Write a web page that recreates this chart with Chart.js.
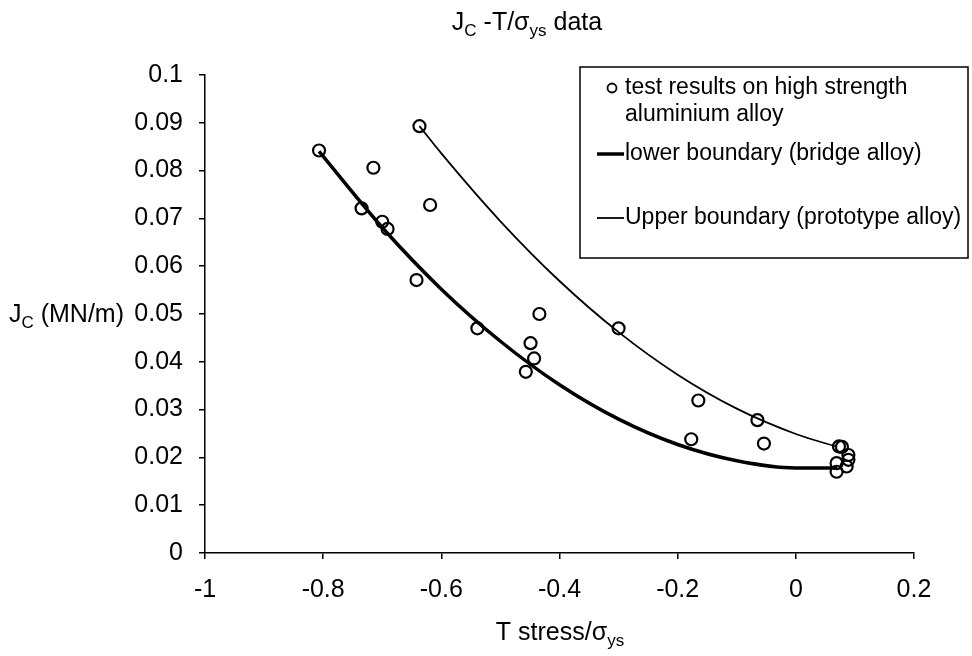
<!DOCTYPE html>
<html>
<head>
<meta charset="utf-8">
<script src="https://cdn.jsdelivr.net/npm/chart.js@4.4.1/dist/chart.umd.min.js"></script>
<style>
  body { margin: 0; background: #fff; }
  #wrap { width: 972px; height: 656px; }
</style>
</head>
<body>
<div id="wrap"><canvas id="chart" width="972" height="656"></canvas></div>
<script>
// test results (T stress / sigma_ys, Jc in MN/m)
const testX = [-0.807, -0.637, -0.715, -0.735, -0.700, -0.691, -0.619, -0.642, -0.539,
               -0.434, -0.449, -0.443, -0.457, -0.300, -0.165, -0.177, -0.065, -0.054,
               0.073, 0.078, 0.089, 0.089, 0.086, 0.069, 0.069];
const testY = [0.0842, 0.0893, 0.0806, 0.0721, 0.0693, 0.0678, 0.0728, 0.0571, 0.0470,
               0.0500, 0.0439, 0.0407, 0.0379, 0.0470, 0.0319, 0.0238, 0.0278, 0.0229,
               0.0223, 0.0222, 0.0205, 0.0195, 0.0181, 0.0188, 0.0170];

// lower boundary (bridge alloy)
const lowerX = [-0.807, -0.7, -0.6, -0.5, -0.4, -0.3, -0.2, -0.1, 0.0, 0.07];
const lowerY = [0.0840, 0.0681, 0.0552, 0.0443, 0.0352, 0.0280, 0.0227, 0.0193, 0.0178, 0.0178];

// upper boundary (prototype alloy)
const upperX = [-0.637, -0.6, -0.5, -0.4, -0.3, -0.2, -0.1, 0.0, 0.07];
const upperY = [0.0893, 0.0836, 0.0694, 0.0569, 0.0462, 0.0373, 0.0302, 0.0249, 0.0222];

const legendLabels = ['test results on high strength', 'aluminium alloy',
                      'lower boundary (bridge alloy)', 'Upper boundary (prototype alloy)'];

const FONT = '"Liberation Sans", Arial, sans-serif';

function pts(xs, ys) {
	return xs.map((x, i) => ({x: x, y: ys[i]}));
}

// draw text made of normal and subscript parts
function richText(ctx, parts, x, y, size, align) {
	let total = 0;
	for (const p of parts) {
		ctx.font = (p.sub ? size * 0.68 : size) + 'px ' + FONT;
		total += ctx.measureText(p.t).width;
	}
	let cx = align === 'center' ? x - total / 2 : x;
	ctx.textBaseline = 'alphabetic';
	ctx.textAlign = 'left';
	for (const p of parts) {
		ctx.font = (p.sub ? size * 0.68 : size) + 'px ' + FONT;
		ctx.fillText(p.t, cx, p.sub ? y + size * 0.22 : y);
		cx += ctx.measureText(p.t).width;
	}
}

const decorations = {
	id: 'decorations',
	afterDraw(chart) {
		const ctx = chart.ctx;
		ctx.save();
		ctx.fillStyle = '#000';
		// title
		richText(ctx, [{t: 'J'}, {t: 'C', sub: true}, {t: ' -T/\u03c3'}, {t: 'ys', sub: true}, {t: ' data'}],
			527, 30, 25, 'center');
		// axis titles
		richText(ctx, [{t: 'J'}, {t: 'C', sub: true}, {t: ' (MN/m)'}], 9, 322, 25, 'left');
		richText(ctx, [{t: 'T stress/\u03c3'}, {t: 'ys', sub: true}], 560, 640, 25, 'center');

		// legend box
		ctx.strokeStyle = '#000';
		ctx.lineWidth = 1.5;
		ctx.strokeRect(580, 67, 388, 191);

		ctx.lineWidth = 1.8;
		ctx.beginPath();
		ctx.arc(612, 88, 4.5, 0, Math.PI * 2);
		ctx.stroke();

		ctx.lineWidth = 3.5;
		ctx.beginPath();
		ctx.moveTo(597, 154);
		ctx.lineTo(624, 154);
		ctx.stroke();

		ctx.lineWidth = 1.8;
		ctx.beginPath();
		ctx.moveTo(597, 218);
		ctx.lineTo(624, 218);
		ctx.stroke();

		ctx.font = '23px ' + FONT;
		ctx.textAlign = 'left';
		ctx.textBaseline = 'middle';
		ctx.fillText(legendLabels[0], 625, 88);
		ctx.fillText(legendLabels[1], 625, 115);
		ctx.fillText(legendLabels[2], 625, 154);
		ctx.fillText(legendLabels[3], 625, 218);
		ctx.restore();
	}
};

const config = {
	type: 'scatter',
	data: {
		datasets: [
			{
				label: legendLabels[0] + ' ' + legendLabels[1],
				data: pts(testX, testY),
				showLine: false,
				pointStyle: 'circle',
				pointRadius: 6,
				pointBorderWidth: 2.2,
				pointBorderColor: '#000',
				pointBackgroundColor: 'rgba(255,255,255,0)'
			},
			{
				label: legendLabels[2],
				data: pts(lowerX, lowerY),
				showLine: true,
				borderColor: '#000',
				borderWidth: 3.5,
				pointRadius: 0,
				cubicInterpolationMode: 'monotone'
			},
			{
				label: legendLabels[3],
				data: pts(upperX, upperY),
				showLine: true,
				borderColor: '#000',
				borderWidth: 1.8,
				pointRadius: 0,
				cubicInterpolationMode: 'monotone'
			}
		]
	},
	options: {
		responsive: false,
		animation: false,
		layout: { padding: { top: 75, right: 58, left: 0, bottom: 0 } },
		plugins: {
			legend: { display: false },
			title: { display: false },
			tooltip: { enabled: false }
		},
		scales: {
			x: {
				type: 'linear',
				min: -1,
				max: 0.2,
				afterFit(scale) { scale.height = 103; },
				border: { color: '#000', width: 1.5 },
				grid: { drawOnChartArea: false, drawTicks: true, tickLength: 6, color: '#000', lineWidth: 1.5 },
				ticks: {
					stepSize: 0.2,
					padding: 16,
					color: '#000',
					font: { family: FONT, size: 25 },
					maxRotation: 0,
					callback: v => String(Number(v.toFixed(1)))
				}
			},
			y: {
				type: 'linear',
				min: 0,
				max: 0.1,
				afterFit(scale) { scale.width = 205; },
				border: { color: '#000', width: 1.5 },
				grid: { drawOnChartArea: false, drawTicks: true, tickLength: 6, color: '#000', lineWidth: 1.5 },
				ticks: {
					stepSize: 0.01,
					padding: 16,
					color: '#000',
					font: { family: FONT, size: 25 },
					callback: v => String(Number(v.toFixed(2)))
				}
			}
		}
	},
	plugins: [decorations]
};

new Chart(document.getElementById('chart'), config);
</script>
</body>
</html>
